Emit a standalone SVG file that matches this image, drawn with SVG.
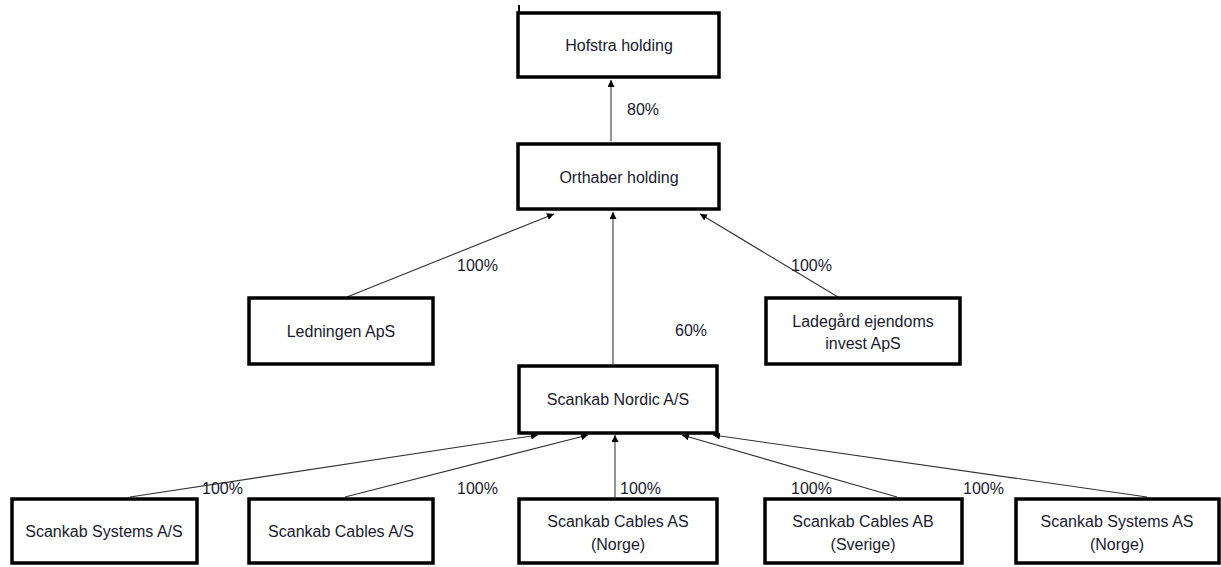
<svg xmlns="http://www.w3.org/2000/svg" width="1221" height="567" viewBox="0 0 1221 567">
<style>
.box{fill:#fff;stroke:#000;stroke-width:3.5}
.t{font-family:"Liberation Sans",Arial,sans-serif;font-size:16px;fill:#1a1a2e;text-anchor:middle}
.lbl{font-family:"Liberation Sans",Arial,sans-serif;font-size:16px;fill:#1a1a2e}
.c{stroke:#333;stroke-width:1.1;fill:none;marker-end:url(#ah)}
.v{stroke:#666;stroke-width:1.4;fill:none;marker-end:url(#ah)}
</style>
<defs>
<marker id="ah" viewBox="0 0 10 10" refX="10" refY="5" markerWidth="7" markerHeight="7" markerUnits="userSpaceOnUse" orient="auto">
<path d="M0,0 L10,5 L0,10 z" fill="#000"/>
</marker>
</defs>
<rect width="1221" height="567" fill="#fff"/>
<g id="connectors">
<line x1="519" y1="5" x2="519" y2="13" stroke="#000" stroke-width="2"/>
<line class="v" x1="611" y1="141" x2="611" y2="80"/>
<line class="c" x1="347" y1="297" x2="554" y2="214"/>
<line class="v" x1="613" y1="364" x2="613" y2="212"/>
<line class="c" x1="838" y1="297" x2="700" y2="214"/>
<line class="c" x1="130" y1="497" x2="538" y2="435"/>
<line class="c" x1="345" y1="497" x2="588" y2="435"/>
<line class="v" x1="615" y1="497" x2="615" y2="435"/>
<line class="c" x1="897" y1="497" x2="682" y2="435"/>
<line class="c" x1="1147" y1="497" x2="713" y2="435"/>
<text class="lbl" x="627" y="115">80%</text>
<text class="lbl" x="457" y="271">100%</text>
<text class="lbl" x="791" y="271">100%</text>
<text class="lbl" x="675" y="336">60%</text>
<text class="lbl" x="202" y="494">100%</text>
<text class="lbl" x="457" y="494">100%</text>
<text class="lbl" x="620" y="494">100%</text>
<text class="lbl" x="791" y="494">100%</text>
<text class="lbl" x="963" y="494">100%</text>
</g>
<g id="hofstra"><rect class="box" x="518" y="13" width="201" height="64"/><text class="t" x="619" y="51">Hofstra holding</text></g>
<g id="orthaber"><rect class="box" x="518" y="144" width="201" height="65"/><text class="t" x="619" y="183">Orthaber holding</text></g>
<g id="ledningen"><rect class="box" x="249" y="298" width="184" height="66"/><text class="t" x="341" y="337">Ledningen ApS</text></g>
<g id="ladegaard"><rect class="box" x="766" y="298" width="194" height="66"/><text class="t" x="863" y="327">Ladegård ejendoms</text><text class="t" x="863" y="349">invest ApS</text></g>
<g id="nordic"><rect class="box" x="519" y="366" width="198" height="67"/><text class="t" x="618" y="405">Scankab Nordic A/S</text></g>
<g id="systems-as"><rect class="box" x="12" y="499" width="185" height="64"/><text class="t" x="104" y="537">Scankab Systems A/S</text></g>
<g id="cables-as"><rect class="box" x="249" y="499" width="184" height="64"/><text class="t" x="341" y="537">Scankab Cables A/S</text></g>
<g id="cables-norge"><rect class="box" x="519" y="499" width="198" height="64"/><text class="t" x="618" y="527">Scankab Cables AS</text><text class="t" x="618" y="550">(Norge)</text></g>
<g id="cables-sverige"><rect class="box" x="765" y="499" width="197" height="64"/><text class="t" x="863" y="527">Scankab Cables AB</text><text class="t" x="863" y="550">(Sverige)</text></g>
<g id="systems-norge"><rect class="box" x="1016" y="499" width="203" height="64"/><text class="t" x="1117" y="527">Scankab Systems AS</text><text class="t" x="1117" y="550">(Norge)</text></g>
</svg>
